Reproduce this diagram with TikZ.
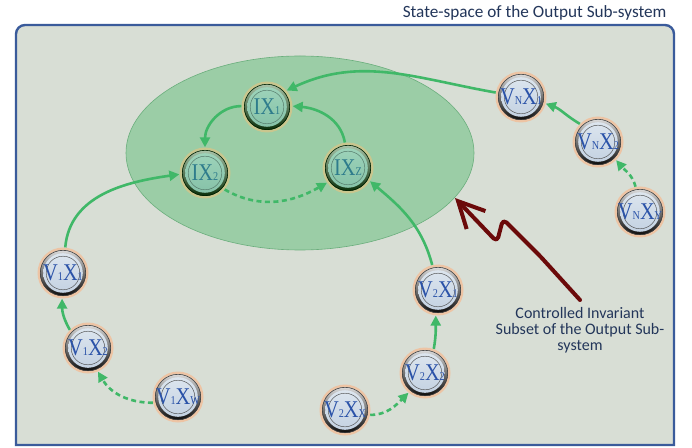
\documentclass[tikz,border=0pt]{standalone}
\usepackage{fontspec}
\setmainfont{Carlito}
\newfontfamily\nodefont[FakeStretch=0.85]{Liberation Serif}
\usetikzlibrary{arrows.meta}
\definecolor{bgfill}{HTML}{D8DED5}
\definecolor{framec}{HTML}{3A5B9B}
\definecolor{ellfill}{HTML}{9BCDA6}
\definecolor{elldraw}{HTML}{6AAE7C}
\definecolor{edgec}{HTML}{40B868}
\definecolor{maroonc}{HTML}{6B0A0A}
\definecolor{textc}{HTML}{23365A}
\definecolor{vhalo}{HTML}{EDC4A4}
\definecolor{vfillA}{HTML}{DCE5EE}
\definecolor{vfillB}{HTML}{C4D2E2}
\definecolor{vtext}{HTML}{2A52A8}
\definecolor{ihalo}{HTML}{C9C68E}
\definecolor{ifillA}{HTML}{9DD3BA}
\definecolor{ifillB}{HTML}{86C2A8}
\definecolor{itext}{HTML}{2E7C8C}
\newcommand\nlab[4]{{\nodefont\fontsize{24}{24}\selectfont #1{\fontsize{12}{12}\selectfont #2}#3{\fontsize{12}{12}\selectfont #4}}}
\tikzset{
  vnode/.style={circle, minimum size=51pt, inner sep=0pt, fill=vhalo, text=vtext,
    path picture={
      \shade[top color=gray!20, bottom color=black] (path picture bounding box.center) circle (23pt);
      \draw[black!75, line width=0.6pt] (path picture bounding box.center) circle (22.7pt);
      \shade[top color=vfillA, bottom color=vfillB] (path picture bounding box.center) circle (19.8pt);
      \draw[gray!60!black, line width=0.45pt] (path picture bounding box.center) circle (16.8pt);
    }},
  inode/.style={circle, minimum size=51pt, inner sep=0pt, fill=ihalo, text=itext,
    path picture={
      \shade[top color=green!20!gray!50, bottom color=black!85!green] (path picture bounding box.center) circle (23pt);
      \draw[black!70!green!40!black, line width=0.6pt] (path picture bounding box.center) circle (22.7pt);
      \shade[top color=ifillA, bottom color=ifillB] (path picture bounding box.center) circle (19.8pt);
      \draw[black!40!ifillB, line width=0.45pt] (path picture bounding box.center) circle (16.8pt);
    }},
  edge/.style={draw=edgec, line width=2.6pt, -{Triangle[length=10pt,width=10pt]}},
  dedge/.style={edge, dash pattern=on 5pt off 3.5pt},
  annot/.style={text=textc, font=\fontsize{16}{16}\selectfont, align=center},
}
\begin{document}
\begin{tikzpicture}[x=1pt,y=1pt]
\clip (0,0) rectangle (692,447);
\fill[white] (0,0) rectangle (692,447);
% frame
\filldraw[fill=bgfill, draw=framec, line width=2.4pt]
  (16,2) -- (16,413) arc[start angle=180, end angle=90, radius=9] -- (665,422)
  arc[start angle=90, end angle=0, radius=9] -- (674,2) -- cycle;
\node[annot, font=\fontsize{17.2}{17.2}\selectfont, anchor=base east] (title) at (670,429) {State-space of the Output Sub-system};
% invariant subset
\filldraw[fill=ellfill, draw=elldraw, line width=0.6pt] (300,294) ellipse [x radius=174, y radius=97];
% nodes
\node[inode] (IX1) at (267,340) {\nlab{I}{}{X}{1}};
\node[inode] (IX2) at (205,274) {\nlab{I}{}{X}{2}};
\node[inode] (IXZ) at (348,279) {\nlab{I}{}{X}{Z}};
\node[vnode] (VNX1) at (521,350) {\nlab{V}{N}{X}{1}};
\node[vnode] (VNX2) at (598,305) {\nlab{V}{N}{X}{2}};
\node[vnode] (VNXY) at (640,235) {\nlab{V}{N}{X}{Y}};
\node[vnode] (V1X1) at (63,174) {\nlab{V}{1}{X}{1}};
\node[vnode] (V1X2) at (88,99) {\nlab{V}{1}{X}{2}};
\node[vnode] (V1XW) at (178,50) {\nlab{V}{1}{X}{W}};
\node[vnode] (V2X1) at (438,157) {\nlab{V}{2}{X}{1}};
\node[vnode] (V2X2) at (425,74) {\nlab{V}{2}{X}{2}};
\node[vnode] (V2XX) at (345,37) {\nlab{V}{2}{X}{X}};
% edges
\draw[edge] (VNX1.170) to[out=170, in=25] (IX1.40);
\draw[edge] (VNX2.135) to[out=150, in=-20] (VNX1.-15);
\draw[dedge] (VNXY.100) to[out=105, in=-50] (VNX2.-45);
\draw[edge] (IX1.178) to[out=180, in=90] (IX2.90);
\draw[edge] (IXZ.97) to[out=100, in=-5] (IX1.2);
\draw[dedge] (IX2.-40) to[out=-30, in=-150] (IXZ.-145);
\draw[edge] (V1X1.85) to[out=85, in=188] (IX2.183);
\draw[edge] (V1X2.135) to[out=120, in=-90] (V1X1.-92);
\draw[dedge] (V1XW.193) to[out=180, in=-60] (V1X2.-67);
\draw[edge] (V2X2.70) to[out=80, in=-90] (V2X1.-95);
\draw[dedge] (V2XX.-11) to[out=0, in=-135] (V2X2.-130);
\draw[edge] (V2X1.103) to[out=105, in=-40] (IXZ.-31);
% annotation
\node[annot] (note) at (580,117) {Controlled Invariant\\Subset of the Output Sub-\\system};
\coordinate (tip) at (455,249);
\draw[maroonc, line width=4pt, line cap=round, line join=round, rounded corners=5pt,
  -{Straight Barb[length=26pt,width=26pt]}]
  (580,147) -- (540,191) -- (503,228) -- (497,205) -- (tip);
\end{tikzpicture}
\end{document}
